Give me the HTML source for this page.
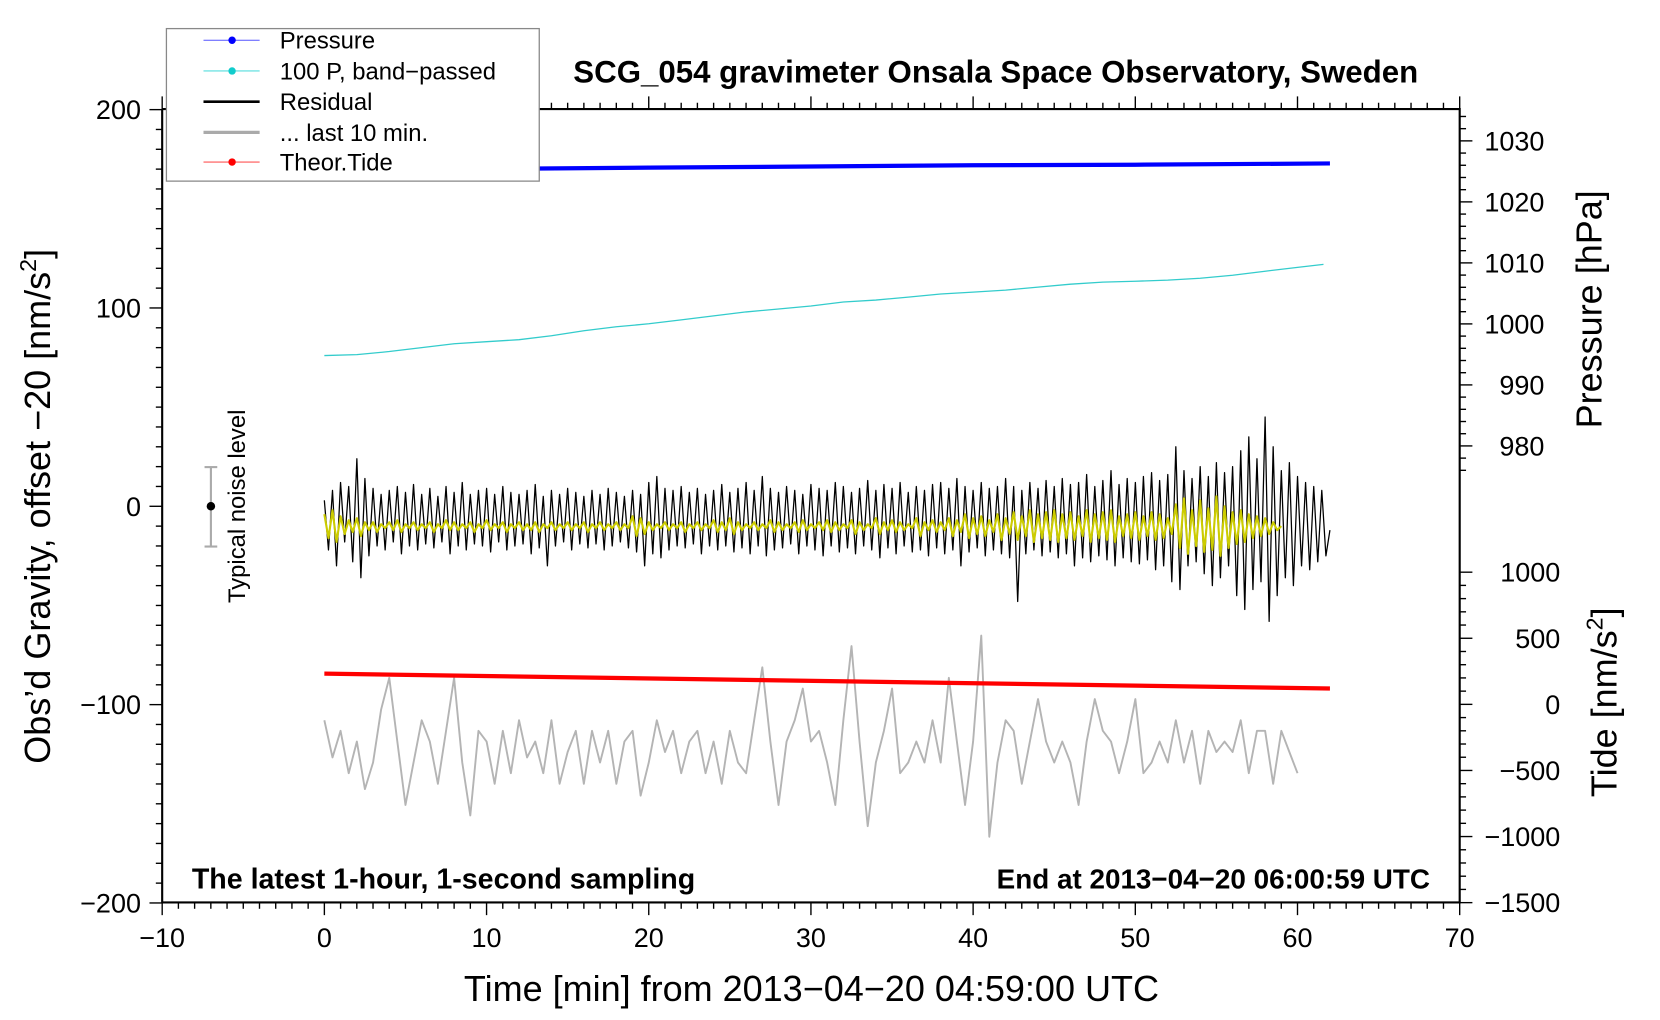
<!DOCTYPE html>
<html><head><meta charset="utf-8"><style>
html,body{margin:0;padding:0;background:#fff;}
svg{display:block;font-family:"Liberation Sans",sans-serif;}
</style></head><body>
<svg id="chart" width="1660" height="1020" viewBox="0 0 1567 963" xmlns="http://www.w3.org/2000/svg">
<g id="grid"></g>
<g id="series"></g>
<g id="axes"></g>
<text x="940" y="78" font-size="29.5" font-weight="bold" text-anchor="middle">SCG_054 gravimeter Onsala Space Observatory, Sweden</text>
<text x="766" y="945" font-size="34" text-anchor="middle">Time [min] from 2013−04−20 04:59:00 UTC</text>
<text transform="translate(47,478) rotate(-90)" font-size="34" text-anchor="middle">Obs’d Gravity, offset −20 [nm/s<tspan font-size="22" dy="-13">2</tspan><tspan dy="13">]</tspan></text>
<text transform="translate(1512,292) rotate(-90)" font-size="34" text-anchor="middle">Pressure [hPa]</text>
<text transform="translate(1526,663) rotate(-90)" font-size="34" text-anchor="middle">Tide [nm/s<tspan font-size="22" dy="-13">2</tspan><tspan dy="13">]</tspan></text>
<text x="181" y="839" font-size="27" font-weight="bold">The latest 1-hour, 1-second sampling</text>
<text x="1350" y="839" font-size="26.3" font-weight="bold" text-anchor="end">End at 2013−04−20 06:00:59 UTC</text>
<g>
<line x1="199" y1="441" x2="199" y2="516" stroke="#aaa" stroke-width="2"/>
<line x1="193" y1="441" x2="205" y2="441" stroke="#aaa" stroke-width="2"/>
<line x1="193" y1="516" x2="205" y2="516" stroke="#aaa" stroke-width="2"/>
<circle cx="199" cy="478" r="4" fill="#000"/>
<text transform="translate(231,478) rotate(-90)" font-size="22.5" text-anchor="middle">Typical noise level</text>
</g>
<g>
<rect x="157" y="27" width="352" height="144" fill="#fff" stroke="#888" stroke-width="1.2"/>
<g><line x1="192" y1="38" x2="245" y2="38" stroke="#55f" stroke-width="1"/><circle cx="219" cy="38" r="3.5" fill="#00f"/><text x="264" y="46" font-size="22.5">Pressure</text></g>
<g><line x1="192" y1="67" x2="245" y2="67" stroke="#5dd" stroke-width="1"/><circle cx="219" cy="67" r="3.5" fill="#1cc"/><text x="264" y="75" font-size="22.5">100 P, band−passed</text></g>
<g><line x1="192" y1="96" x2="245" y2="96" stroke="#000" stroke-width="2.5"/><text x="264" y="104" font-size="22.5">Residual</text></g>
<g><line x1="192" y1="125" x2="245" y2="125" stroke="#aaa" stroke-width="3"/><text x="264" y="133" font-size="22.5">... last 10 min.</text></g>
<g><line x1="192" y1="153" x2="245" y2="153" stroke="#f55" stroke-width="1"/><circle cx="219" cy="153" r="3.5" fill="#f00"/><text x="264" y="161" font-size="22.5">Theor.Tide</text></g>
</g>
</svg>
<script>
const xTicks=[-10,0,10,20,30,40,50,60,70];
const yTicks=[200,100,0,-100,-200];
const pTicks=[1030,1020,1010,1000,990,980];
const tideTicks=[1000,500,0,-500,-1000,-1500];
const pressTime=[4,10,20,30,40,50,62];
const pressVal=[1025.2,1025.4,1025.6,1025.8,1026.0,1026.1,1026.3];
const bandTime=[0,2,4,6,8,10,12,14,16,18,20,22,24,26,28,30,32,34,36,38,40,42,44,46,48,50,52,54,56,58,60,61.6];
const bandVal=[76,76.5,78,80,82,83,84,86,88.5,90.5,92,94,96,98,99.5,101,103,104,105.5,107,108,109,110.5,112,113,113.5,114,115,116.5,118.5,120.5,122];
const tideTime=[0,62];
const tideVal=[232,120];
const residualVal=[3,-22,8,-30,12,-18,10,-28,24,-36,14,-25,9,-20,6,-22,8,-18,10,-24,7,-20,11,-22,6,-19,9,-21,5,-18,10,-24,7,-20,12,-22,6,-19,8,-20,9,-23,6,-18,10,-22,7,-20,6,-19,8,-24,11,-21,5,-30,8,-20,6,-18,9,-22,7,-19,5,-21,8,-19,6,-22,9,-20,7,-18,5,-21,8,-23,6,-30,12,-24,15,-26,9,-22,8,-20,10,-21,7,-19,9,-24,6,-20,8,-22,11,-20,7,-23,9,-21,12,-24,8,-20,15,-25,9,-22,7,-21,10,-19,8,-24,6,-20,11,-22,9,-25,8,-20,12,-23,10,-21,7,-24,9,-20,13,-22,8,-26,11,-21,9,-24,12,-20,7,-23,10,-22,8,-25,11,-21,12,-24,9,-22,14,-30,10,-23,8,-21,12,-25,9,-22,10,-24,14,-26,10,-48,8,-24,12,-22,9,-25,13,-23,10,-26,14,-24,11,-30,12,-26,16,-28,10,-25,13,-27,18,-30,11,-26,14,-28,12,-29,15,-27,17,-32,13,-30,16,-38,30,-42,18,-30,14,-28,20,-34,15,-40,22,-36,17,-30,20,-45,28,-52,35,-42,24,-38,45,-58,30,-45,18,-36,22,-40,15,-30,12,-32,10,-28,8,-25,-12];
const filteredVal=[-4,-16,-2,-18,-5,-14,-7,-13,-6,-15,-8,-12,-8,-13,-9,-11,-8,-12,-7,-13,-9,-11,-8,-12,-9,-11,-8,-13,-9,-11,-7,-12,-8,-12,-9,-11,-8,-13,-9,-11,-7,-12,-9,-11,-8,-13,-9,-11,-8,-12,-9,-12,-8,-13,-9,-11,-8,-12,-9,-11,-8,-12,-9,-11,-8,-13,-9,-11,-8,-12,-9,-11,-8,-12,-9,-11,-5,-15,-6,-14,-8,-12,-9,-11,-8,-12,-9,-11,-8,-13,-9,-11,-8,-12,-9,-11,-7,-13,-8,-12,-6,-14,-8,-12,-9,-11,-8,-12,-9,-11,-7,-13,-8,-12,-9,-11,-8,-13,-7,-12,-9,-11,-8,-12,-7,-13,-8,-12,-9,-11,-7,-14,-8,-12,-9,-11,-6,-14,-8,-12,-7,-13,-8,-12,-9,-11,-6,-15,-8,-12,-7,-13,-8,-12,-6,-15,-7,-13,-4,-16,-6,-14,-5,-15,-7,-13,-4,-17,-6,-14,-3,-17,-5,-15,-2,-18,-4,-16,-3,-17,-2,-18,-4,-16,-3,-17,-5,-15,-2,-18,-4,-16,-3,-17,-2,-18,-5,-15,-4,-16,-3,-17,-5,-15,-3,-17,-4,-16,-6,-14,1,-21,4,-24,-2,-20,3,-23,-1,-22,5,-25,0,-21,-3,-19,-2,-18,-4,-16,-5,-15,-6,-14,-8,-12,-10];
const lastTenVal=[-107.9,-126.6,-113.2,-134.6,-118.6,-142.6,-129.2,-102.5,-86.5,-118.6,-150.6,-129.2,-107.9,-118.6,-139.9,-113.2,-86.5,-129.2,-155.9,-113.2,-118.6,-139.9,-113.2,-134.6,-107.9,-126.6,-118.6,-134.6,-107.9,-139.9,-123.9,-113.2,-139.9,-113.2,-129.2,-113.2,-139.9,-118.6,-113.2,-145.9,-129.2,-107.9,-123.9,-113.2,-134.6,-118.6,-113.2,-134.6,-118.6,-139.9,-113.2,-129.2,-134.6,-107.9,-81.2,-118.6,-150.6,-118.6,-107.9,-91.9,-118.6,-113.2,-129.2,-150.6,-107.9,-70.5,-118.6,-161.3,-129.2,-113.2,-91.9,-134.6,-129.2,-118.6,-129.2,-107.9,-129.2,-86.5,-118.6,-150.6,-118.6,-65.2,-166.6,-129.2,-107.9,-113.2,-139.9,-118.6,-97.2,-118.6,-129.2,-118.6,-129.2,-150.6,-118.6,-97.2,-113.2,-118.6,-134.6,-118.6,-97.2,-134.6,-129.2,-118.6,-129.2,-107.9,-129.2,-113.2,-139.9,-113.2,-123.9,-118.6,-123.9,-107.9,-134.6,-113.2,-113.2,-139.9,-113.2,-123.9,-134.6];
const NS='http://www.w3.org/2000/svg';
const X0=153,X1=1378,YT=103,YB=852;
function xs(t){return X0+(t+10)*(X1-X0)/80;}
function ys(v){return 478-v*1.8725;}
function ps(p){return 133+(1030-p)*5.76;}
function ts(v){return 665-v*0.1248;}
function mk(tag,attrs,parent){const e=document.createElementNS(NS,tag);for(const k in attrs)e.setAttribute(k,attrs[k]);parent.appendChild(e);return e;}
const series=document.getElementById('series'),axes=document.getElementById('axes');
function poly(pts,color,w,name){
  const p=mk('polyline',{points:pts.map(q=>q[0].toFixed(1)+','+q[1].toFixed(1)).join(' '),fill:'none',stroke:color,'stroke-width':w,'stroke-linejoin':'round'},series);
  
  
}
poly(lastTenVal.map((v,i)=>[xs(i*0.5),ys(v)]),'#b4b4b4',1.8,'last-10-min-line');
poly(tideTime.map((t,i)=>[xs(t),ts(tideVal[i])]),'#f00',4,'theor-tide-line');
poly(residualVal.map((v,i)=>[xs(i*0.25),ys(v)]),'#000',1.2,'residual-line');
poly(filteredVal.map((v,i)=>[xs(i*0.25),ys(v)]),'#cccc00',2,'residual-filtered-line');
poly(bandTime.map((t,i)=>[xs(t),ys(bandVal[i])]),'#3cc',1.2,'band-passed-pressure-line');
poly(pressTime.map((t,i)=>[xs(t),ps(pressVal[i])]),'#00f',4,'pressure-line');
const fr=mk('path',{d:`M${X0},${YT}V${YB}H${X1}V${YT}H${X0}`,fill:'none',stroke:'#000','stroke-width':2},axes);


function tick(x1,y1,x2,y2){mk('line',{x1,y1,x2,y2,stroke:'#000','stroke-width':1.3},axes);}
function label(x,y,txt,anchor,name){const e=mk('text',{x,y,'font-size':25.5,'text-anchor':anchor},axes);e.textContent=txt;}
for(let t=-10;t<=70;t++){const x=xs(t),maj=t%10===0;tick(x,YB,x,YB+(maj?12:6));tick(x,YT,x,YT-(maj?12:6));}
xTicks.forEach(t=>label(xs(t),894,String(t).replace('-','−'),'middle','x-tick-label'));
for(let v=-200;v<=200;v+=10){const y=ys(v),maj=v%100===0;tick(X0,y,X0-(maj?12:6),y);}
yTicks.forEach(v=>label(133,ys(v)+9,String(v).replace('-','−'),'end','y-tick-label'));
for(let p=976;p<=1034;p+=2){const y=ps(p),maj=p%10===0;tick(X1,y,X1+(maj?12:6),y);}
pTicks.forEach(p=>label(1458,ps(p)+9,String(p),'end','pressure-tick-label'));
for(let v=-1500;v<=1000;v+=100){const y=ts(v),maj=v%500===0;tick(X1,y,X1+(maj?12:6),y);}
tideTicks.forEach(v=>label(1473,ts(v)+9,String(v).replace('-','−'),'end','tide-tick-label'));
</script>
</body></html>
